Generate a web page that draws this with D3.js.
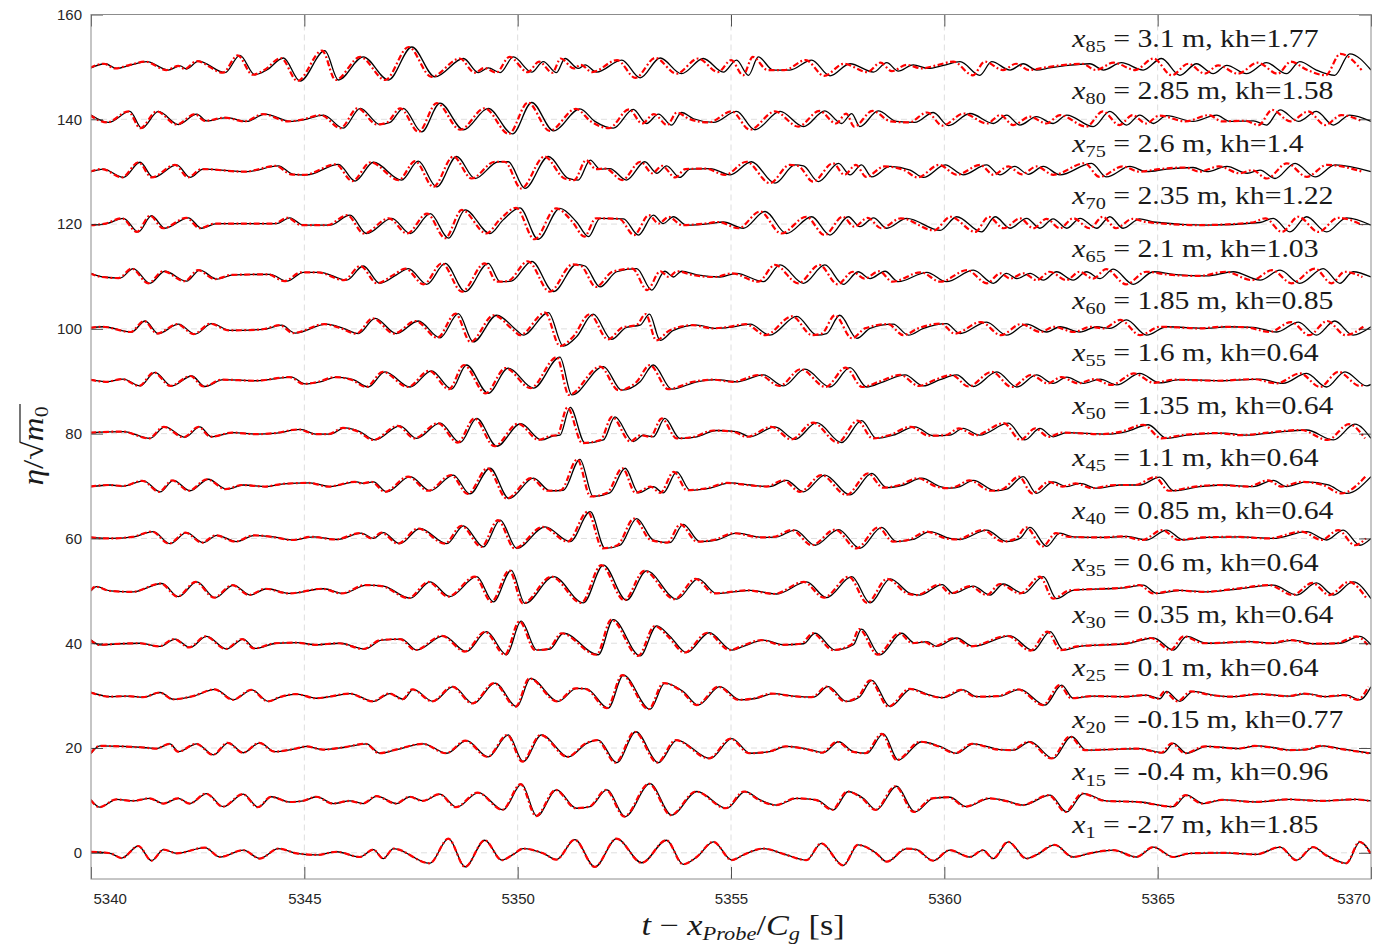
<!DOCTYPE html>
<html>
<head>
<meta charset="utf-8">
<script src="https://cdn.jsdelivr.net/npm/d3@7"></script>
<style>
  body { margin: 0; background: #fff; }
</style>
</head>
<body>
<div id="chart"></div>
<script>
// wave records, [time, eta/sqrt(m0) relative to the probe's offset]
const p85 = [[5340,-0.2],[5340.33,0.6],[5340.6,-0.3],[5340.91,0.3],[5341.31,1.0],[5341.81,-0.6],[5342.09,0.2],[5342.24,-0.4],[5342.52,1.1],[5343.14,-1.1],[5343.49,2.2],[5343.84,-1.5],[5344.12,-0.6],[5344.51,1.7],[5344.9,-2.7],[5345.48,3.1],[5345.8,-2.5],[5346.38,1.9],[5346.97,-2.5],[5347.52,3.8],[5348.06,-1.9],[5348.73,1.6],[5349.08,-1.1],[5349.31,-0.2],[5349.59,-1.1],[5349.9,1.9],[5350.33,-1.0],[5350.6,1.0],[5350.91,-1.1],[5351.11,1.6],[5351.42,-0.3],[5351.58,0.4],[5351.85,-1.0],[5352.44,1.3],[5352.87,-2.1],[5353.34,1.7],[5353.84,-1.3],[5354.35,1.6],[5354.82,-1.0],[5355.13,1.3],[5355.41,-1.6],[5355.64,1.9],[5355.99,-0.6],[5356.38,-0.6],[5356.89,1.3],[5357.32,-1.7],[5357.79,0.6],[5358.34,-1.0],[5358.65,0.8],[5358.92,-0.8],[5359.27,0.4],[5359.62,-0.3],[5359.98,0.3],[5360.37,1.0],[5360.83,-1.6],[5361.11,1.0],[5361.54,-0.6],[5361.85,0.6],[5362.16,-0.6],[5362.47,-0.2],[5362.9,0.3],[5363.41,0.6],[5363.73,-0.6],[5364.15,0.8],[5364.66,-0.6],[5365.09,1.6],[5365.52,-1.6],[5365.91,0.6],[5366.3,-1.3],[5366.62,0.3],[5367.08,-1.3],[5367.55,0.8],[5368.02,-1.3],[5368.33,1.0],[5368.72,-0.6],[5369.15,-1.6],[5369.5,2.5],[5370,-0.6]];
const p80 = [[5340,0.8],[5340.41,-0.6],[5340.91,1.5],[5341.19,-1.7],[5341.58,1.5],[5342.05,-1.0],[5342.48,1.0],[5342.71,-0.3],[5343.18,0.3],[5343.65,-0.4],[5344.08,1.0],[5344.67,-0.4],[5344.98,-0.1],[5345.45,0.8],[5345.91,-1.7],[5346.31,2.1],[5346.77,-1.0],[5347.01,-0.6],[5347.32,2.1],[5347.75,-2.4],[5348.18,3.1],[5348.73,-2.0],[5349.31,2.1],[5349.88,-2.8],[5350.33,3.2],[5350.84,-2.2],[5351.46,2.0],[5351.81,-0.4],[5352.24,-1.7],[5352.71,1.9],[5353.02,-0.8],[5353.3,1.0],[5353.61,-1.1],[5353.84,1.3],[5354.12,0.1],[5354.59,-0.6],[5355.13,1.5],[5355.56,-2.0],[5356.15,1.5],[5356.7,-1.4],[5357.2,1.6],[5357.59,-0.8],[5357.83,1.1],[5358.02,-1.4],[5358.45,1.6],[5358.88,-0.4],[5359.31,-0.6],[5359.74,1.3],[5360.1,-1.2],[5360.6,1.1],[5361.15,-0.8],[5361.46,0.8],[5361.77,-1.1],[5362.16,0.5],[5362.55,-0.8],[5362.87,0.8],[5363.49,-1.4],[5363.88,1.5],[5364.27,-1.1],[5364.58,0.8],[5364.9,-0.8],[5365.21,0.7],[5365.83,-0.4],[5366.38,0.8],[5366.69,-0.4],[5367.24,-0.3],[5367.55,-1.1],[5367.87,1.8],[5368.3,-0.4],[5368.72,1.5],[5369.12,-1.1],[5369.5,0.8],[5370,-0.4]];
const p75 = [[5340,0],[5340.29,0.5],[5340.76,-1.1],[5341.15,1.8],[5341.46,-1.1],[5342.01,1.3],[5342.32,-1.1],[5342.63,0.5],[5343.65,0],[5344.39,1.1],[5344.74,-0.5],[5345.06,-0.6],[5345.8,1.4],[5346.19,-1.8],[5346.62,1.8],[5347.28,-1.6],[5347.67,2.0],[5348.1,-2.9],[5348.57,2.9],[5349.0,-1.3],[5349.55,1.9],[5349.78,1.9],[5350.17,-3.2],[5350.72,2.9],[5351.19,-1.3],[5351.42,-1.6],[5351.7,2.2],[5351.93,0.5],[5352.16,0.6],[5352.55,-1.6],[5352.98,1.9],[5353.26,-0.3],[5353.49,1.1],[5353.8,-1.1],[5354.04,0.5],[5354.51,0.6],[5354.98,-0.6],[5355.48,1.9],[5356.03,-2.2],[5356.5,1.3],[5356.7,1.1],[5357.05,-1.9],[5357.52,1.6],[5357.79,-0.6],[5358.06,1.3],[5358.3,-1.0],[5358.73,1.0],[5359.2,0.3],[5359.51,-1.1],[5360.02,1.3],[5360.44,-0.6],[5360.99,1.3],[5361.3,-0.6],[5361.65,1.0],[5361.97,-0.5],[5362.32,1.0],[5362.71,-0.6],[5363.45,1.6],[5363.8,-1.0],[5364.35,1.0],[5364.74,0],[5365.21,0.5],[5365.83,0.8],[5366.15,0],[5366.62,1.0],[5367.1,-0.3],[5367.4,0.3],[5367.75,-1.3],[5368.22,1.6],[5368.69,-1.0],[5369.16,1.3],[5370,0]];
const p70 = [[5340,-0.2],[5340.37,0.1],[5340.76,1.1],[5341.11,-1.5],[5341.42,1.6],[5341.73,-0.8],[5342.28,1.2],[5342.59,-0.8],[5342.95,0.1],[5344.35,0.1],[5344.66,1.2],[5344.98,-0.2],[5345.6,-0.2],[5346.07,1.7],[5346.46,-1.8],[5347.05,1.1],[5347.48,-1.8],[5347.95,2.0],[5348.38,-2.7],[5348.77,2.7],[5349.35,-1.8],[5349.66,0.8],[5350.05,3.1],[5350.48,-2.9],[5350.99,3.0],[5351.38,0.4],[5351.66,-2.4],[5351.93,1.1],[5352.48,1.0],[5352.83,-2.1],[5353.18,1.7],[5353.41,0.1],[5353.65,1.4],[5353.96,-0.2],[5354.51,0.1],[5354.82,0.4],[5355.29,-0.8],[5355.8,2.4],[5356.3,-1.8],[5356.89,1.4],[5357.32,-2.1],[5357.75,1.4],[5358.02,-0.5],[5358.34,1.2],[5358.65,-0.8],[5359.12,1.1],[5359.9,-1.2],[5360.29,1.4],[5360.87,-1.5],[5361.19,1.4],[5361.54,-0.8],[5361.93,1.1],[5362.24,-0.8],[5362.55,1.0],[5362.87,-0.8],[5363.18,1.1],[5363.57,-0.8],[5363.88,1.4],[5364.19,-0.8],[5364.58,1.0],[5364.9,0.4],[5366.15,-0.2],[5367.4,0.3],[5367.71,1.1],[5368.1,-1.5],[5368.49,1.4],[5368.96,-1.5],[5369.43,1.2],[5370,-0.2]];
const p65 = [[5340,0.6],[5340.29,-0.1],[5340.68,-0.3],[5340.99,1.5],[5341.38,-1.3],[5341.73,1.0],[5342.24,-0.9],[5342.55,1.2],[5342.95,-0.5],[5343.34,0.3],[5344.2,0.4],[5344.59,-0.9],[5344.98,0.8],[5345.37,0.8],[5345.99,-0.7],[5346.38,2.0],[5346.77,-1.3],[5347.16,0.3],[5347.44,1.5],[5347.87,-1.5],[5348.3,2.5],[5348.77,-2.9],[5349.31,2.5],[5349.59,-1.0],[5349.85,-0.9],[5350.33,2.9],[5350.84,-2.9],[5351.38,2.3],[5351.58,2.0],[5351.93,-2.0],[5352.32,0.9],[5352.79,1.5],[5353.14,-2.6],[5353.45,1.0],[5353.65,-0.1],[5353.84,1.0],[5354.2,0.3],[5354.74,-0.1],[5355.13,0.6],[5355.76,-1.0],[5356.15,2.2],[5356.7,-1.3],[5357.2,2.2],[5357.63,-1.5],[5357.98,0.9],[5358.26,-0.4],[5358.61,1.0],[5358.92,-1.0],[5359.59,0.8],[5360.05,-1.0],[5360.68,1.2],[5361.15,-1.3],[5361.46,0.6],[5361.7,-0.4],[5362.01,0.6],[5362.32,-0.7],[5362.63,0.9],[5363.02,-0.7],[5363.33,0.9],[5363.65,-0.4],[5363.96,1.4],[5364.43,-1.5],[5364.9,0.9],[5365.37,0.4],[5366.15,0.1],[5366.77,0.9],[5367.4,-0.7],[5367.87,1.2],[5368.33,-1.3],[5368.88,1.5],[5369.27,-1.3],[5369.58,0.9],[5370,-0.1]];
const p60 = [[5340,0.2],[5340.29,0.4],[5340.95,-0.6],[5341.27,1.5],[5341.58,-0.9],[5342.05,0.9],[5342.44,-1.0],[5342.83,1.0],[5343.26,-0.3],[5344.04,-0.1],[5344.47,0.7],[5344.78,-0.8],[5345.52,0.9],[5345.91,0.1],[5346.27,-0.9],[5346.66,2.0],[5347.16,-0.9],[5347.67,1.5],[5348.18,-1.7],[5348.61,2.9],[5348.96,-2.5],[5349.51,2.6],[5349.98,-0.3],[5350.13,-1.2],[5350.72,3.1],[5351.07,-3.3],[5351.38,-1.5],[5351.77,2.8],[5352.2,-2.0],[5352.55,0.3],[5352.87,0.7],[5353.09,2.8],[5353.34,-2.2],[5353.65,-0.3],[5354.2,0.7],[5354.66,0.1],[5354.98,0.3],[5355.45,0.9],[5355.91,-1.2],[5356.54,2.4],[5357.01,-1.2],[5357.24,-0.9],[5357.55,2.6],[5357.95,-1.8],[5358.26,0.1],[5358.8,0.9],[5359.16,-1.2],[5359.51,0.1],[5360.05,1.0],[5360.37,-0.9],[5360.99,1.3],[5361.46,-1.2],[5361.93,0.9],[5362.4,-0.6],[5362.71,0.4],[5363.18,-0.6],[5363.57,0.4],[5363.88,0.1],[5364.27,1.7],[5364.74,-1.2],[5365.21,0.4],[5366.15,0.1],[5366.62,0.4],[5367.24,0.3],[5367.79,-0.6],[5368.3,1.3],[5368.72,-1.2],[5369.15,1.5],[5369.58,-1.2],[5370,0.4]];
const p55 = [[5340,0.3],[5340.37,-0.1],[5340.76,0.4],[5341.15,-0.9],[5341.5,1.7],[5341.89,-0.9],[5342.36,1.0],[5342.67,-1.0],[5343.1,0.3],[5343.88,0.1],[5344.7,0.8],[5345.02,-0.5],[5345.37,-0.1],[5345.76,0.8],[5346.15,0.3],[5346.5,-1.1],[5346.89,1.8],[5347.48,-1.1],[5347.98,2.0],[5348.45,-1.5],[5348.8,3.1],[5349.31,-2.3],[5349.78,2.5],[5350.37,-1.3],[5350.99,4.6],[5351.27,-2.6],[5352.01,2.8],[5352.44,-1.7],[5352.87,-0.1],[5353.18,3.1],[5353.61,-1.5],[5354.2,-0.1],[5354.66,0.3],[5355.13,-0.1],[5355.76,1.2],[5356.23,-0.9],[5356.73,2.3],[5357.32,-1.1],[5357.79,2.6],[5358.18,-1.1],[5358.57,-0.1],[5359.08,1.2],[5359.51,-0.9],[5359.9,0.3],[5360.29,1.2],[5360.68,-1.0],[5361.23,1.8],[5361.7,-1.1],[5362.16,1.2],[5362.55,-0.4],[5362.87,0.8],[5363.26,-0.4],[5363.65,0.4],[5364.04,-0.7],[5364.58,1.5],[5365.05,-0.3],[5365.52,0.3],[5366.54,0.1],[5367.4,0.4],[5367.94,-0.4],[5368.49,1.5],[5368.96,-1.1],[5369.39,1.8],[5369.9,-0.9],[5370,-0.6]];
const p50 = [[5340,0.2],[5340.76,0.4],[5341.38,-0.9],[5341.73,1.3],[5342.2,-0.7],[5342.55,1.3],[5342.83,-0.6],[5343.34,0.2],[5343.88,-0.1],[5344.35,0.1],[5344.9,0.8],[5345.29,-0.1],[5345.6,-0.1],[5345.95,1.1],[5346.3,0.4],[5346.66,-1.2],[5347.24,1.5],[5347.63,-0.9],[5348.18,2.0],[5348.65,-1.7],[5349.04,2.9],[5349.51,-2.4],[5350.07,1.9],[5350.56,-1.2],[5350.84,-0.4],[5350.99,-0.3],[5351.23,5.0],[5351.58,-1.8],[5352.01,-1.2],[5352.28,3.2],[5352.71,-1.5],[5352.95,-0.3],[5353.18,-0.6],[5353.45,2.9],[5353.8,-0.9],[5354.2,-0.6],[5354.66,0.6],[5355.13,0.4],[5355.45,-0.6],[5356.03,1.3],[5356.5,-1.1],[5357.01,2.1],[5357.59,-1.7],[5358.06,2.5],[5358.41,-0.9],[5358.8,-0.3],[5359.31,1.3],[5359.74,-0.4],[5360.13,-0.3],[5360.44,1.0],[5360.83,-0.3],[5361.5,2.0],[5361.89,-1.2],[5362.24,1.0],[5362.55,-0.6],[5362.87,0.2],[5363.8,-0.1],[5364.27,0.4],[5364.78,1.7],[5365.21,-0.9],[5365.68,-0.3],[5366.54,0.1],[5367.08,-0.3],[5367.71,0.2],[5368.49,0.7],[5369.12,-1.2],[5369.62,1.8],[5370,-0.9]];
const p45 = [[5340,-0.1],[5340.45,0.2],[5340.76,0],[5341.23,1.0],[5341.62,-1.1],[5341.93,1.1],[5342.32,-0.9],[5342.75,1.3],[5343.18,-0.6],[5343.57,0.2],[5344.12,-0.1],[5344.51,0.4],[5345.13,0.6],[5345.6,-0.1],[5346.23,0.8],[5346.38,0.5],[5346.62,0.8],[5346.93,-1.1],[5347.48,1.8],[5347.95,-0.9],[5348.49,2.1],[5348.88,-1.5],[5349.35,3.4],[5349.8,-2.4],[5350.37,1.5],[5350.76,-0.9],[5351.07,-0.8],[5351.46,5.1],[5351.77,-2.0],[5352.16,-1.3],[5352.52,3.4],[5352.83,-1.3],[5353.18,-0.1],[5353.41,-1.3],[5353.73,2.7],[5354.04,-0.8],[5354.51,-0.4],[5354.98,0.6],[5355.45,0.2],[5355.91,-0.1],[5356.3,1.1],[5356.7,-1.1],[5357.2,2.1],[5357.79,-1.7],[5358.3,2.4],[5358.65,-0.3],[5359.04,0.2],[5359.47,1.5],[5359.9,-0.1],[5360.13,-0.4],[5360.37,-0.1],[5360.68,1.1],[5361.19,-0.9],[5361.46,-0.6],[5361.85,1.8],[5362.16,-1.4],[5362.55,0.8],[5362.87,-0.1],[5363.18,0.5],[5363.57,-0.4],[5364.12,0.2],[5364.58,0.2],[5365.05,1.7],[5365.37,-0.9],[5365.99,-0.1],[5366.54,0.2],[5367.24,-0.1],[5367.71,1.1],[5368.02,-0.1],[5368.49,0.8],[5369.0,0.2],[5369.43,-1.4],[5370,1.8]];
const p40 = [[5340,0.2],[5340.45,0],[5340.99,0.3],[5341.46,1.3],[5341.85,-1.0],[5342.24,1.1],[5342.63,-0.8],[5342.95,0.6],[5343.41,-0.6],[5343.84,0.6],[5344.35,0.2],[5344.74,-0.3],[5345.21,0.3],[5345.76,-0.2],[5346.34,1.0],[5346.62,0],[5346.85,1.1],[5347.24,-1.0],[5347.71,1.9],[5348.34,-1.0],[5348.73,2.4],[5349.2,-1.6],[5349.59,3.5],[5349.98,-1.9],[5350.64,2.2],[5351.23,-0.6],[5351.7,5.1],[5352.05,-1.9],[5352.4,-1.3],[5352.79,3.8],[5353.18,-0.3],[5353.57,-0.8],[5353.88,2.7],[5354.27,-0.6],[5354.66,-0.3],[5355.13,1.0],[5355.76,0.2],[5356.07,0.3],[5356.5,1.6],[5356.97,-1.3],[5357.52,1.7],[5358.02,-1.9],[5358.53,2.1],[5358.88,-0.6],[5359.27,-0.2],[5359.66,1.3],[5360.13,0],[5360.37,-0.2],[5360.99,1.6],[5361.46,-0.6],[5361.77,0],[5362.01,2.1],[5362.4,-1.5],[5362.71,1.0],[5363.02,0.3],[5363.8,0.2],[5364.27,0.4],[5364.74,-0.3],[5365.21,1.6],[5365.6,-0.3],[5366.15,0.2],[5366.93,0.3],[5367.71,0],[5368.49,1.3],[5368.96,-0.3],[5369.35,1.6],[5369.74,-1.3],[5370,0]];
const p35 = [[5340,0],[5340.13,0.8],[5340.45,0],[5340.99,-0.2],[5341.66,1.4],[5342.05,-1.1],[5342.48,1.7],[5342.91,-1.3],[5343.34,1.1],[5343.73,-0.8],[5344.12,0.4],[5344.66,-0.5],[5345.45,0.4],[5345.91,-0.5],[5346.46,1.1],[5346.85,0.9],[5347.48,-1.4],[5347.95,1.7],[5348.41,-1.1],[5349.04,2.7],[5349.43,-2.1],[5349.85,3.9],[5350.17,-2.4],[5350.84,2.7],[5351.54,-2.3],[5352.01,4.9],[5352.55,-1.8],[5353.02,3.8],[5353.73,-1.6],[5354.23,2.3],[5354.66,-0.5],[5355.45,0.1],[5356.07,-0.6],[5356.77,1.7],[5357.24,-1.3],[5357.83,2.7],[5358.26,-2.3],[5358.73,2.3],[5359.2,-0.5],[5359.43,-0.8],[5359.95,1.2],[5360.21,-0.5],[5360.68,0.9],[5361.07,-0.8],[5361.38,1.3],[5361.85,-0.5],[5362.32,2.7],[5362.63,-1.5],[5363.02,0.1],[5363.8,0.4],[5364.27,0.6],[5364.66,1.1],[5364.98,-0.5],[5365.52,0.1],[5366.15,-0.2],[5366.93,0.4],[5367.71,1.1],[5368.26,-0.8],[5368.72,1.5],[5369.12,-0.8],[5369.58,1.7],[5370,-1.5]];
const p30 = [[5340,0.6],[5340.21,-0.3],[5340.68,-0.1],[5341.15,0],[5341.62,-0.6],[5341.97,0.8],[5342.32,-0.8],[5342.71,1.3],[5343.18,-1.1],[5343.57,0.8],[5343.84,-1.0],[5344.35,0],[5344.82,0.1],[5345.29,-0.3],[5345.84,0],[5346.42,-1.1],[5346.81,0.6],[5347.28,0.8],[5347.63,-1.3],[5348.26,1.4],[5348.8,-1.6],[5349.27,2.2],[5349.74,-2.2],[5350.08,4.2],[5350.45,-1.3],[5350.76,-1.1],[5351.07,1.9],[5351.89,-2.2],[5352.24,4.5],[5352.87,-2.4],[5353.26,3.3],[5353.57,1.3],[5353.96,-1.8],[5354.49,2.0],[5355.02,-1.3],[5355.29,-0.6],[5355.76,0.6],[5356.23,-0.3],[5356.7,-0.1],[5356.97,1.9],[5357.44,-1.3],[5357.87,-0.3],[5358.06,2.7],[5358.49,-2.2],[5359.0,1.9],[5359.31,0],[5359.59,0.3],[5359.82,-0.6],[5360.29,1.0],[5360.68,-0.6],[5361.54,1.4],[5362.08,-1.4],[5362.48,2.2],[5362.79,-1.3],[5363.18,-0.6],[5363.8,-0.3],[5364.27,-0.1],[5364.9,1.0],[5365.37,-1.3],[5365.68,1.3],[5366.15,0],[5366.62,0.1],[5367.16,0.3],[5367.71,0],[5368.18,0.6],[5368.65,-0.1],[5369.27,0],[5369.74,1.3],[5370,-0.3]];
const p25 = [[5340,0.6],[5340.45,-0.2],[5340.84,-0.1],[5341.23,-0.3],[5341.62,0.6],[5341.93,-0.7],[5342.4,-0.1],[5342.91,1.2],[5343.34,-0.8],[5343.77,1.1],[5344.16,-1.1],[5344.43,-0.3],[5344.82,0.3],[5345.29,-0.5],[5345.6,-0.2],[5346.07,0.4],[5346.62,-1.1],[5347.01,0.4],[5347.32,-0.7],[5347.55,1.2],[5348.02,-1.1],[5348.49,1.7],[5348.96,-1.5],[5349.47,2.4],[5349.98,-2.1],[5350.3,3.3],[5350.95,-1.1],[5351.38,1.4],[5351.62,1.3],[5352.12,-2.4],[5352.48,3.9],[5353.1,-2.6],[5353.45,2.4],[5353.88,0.8],[5354.23,-1.8],[5354.74,1.7],[5355.21,-0.8],[5355.6,-0.5],[5355.99,0.4],[5356.46,-0.1],[5356.93,-0.3],[5357.28,1.7],[5357.71,-1.1],[5358.02,-0.2],[5358.3,2.9],[5358.73,-2.1],[5359.23,1.3],[5359.59,0.3],[5359.98,-0.4],[5360.44,1.1],[5360.76,-0.2],[5361.3,-0.1],[5361.77,1.2],[5362.36,-1.8],[5362.75,2.0],[5363.02,-0.5],[5363.49,-0.1],[5364.27,-0.2],[5364.74,0.1],[5365.05,-0.6],[5365.21,0.8],[5365.52,-1.1],[5365.83,0.8],[5366.3,0.1],[5366.77,-0.2],[5367.4,0.3],[5368.1,-0.1],[5368.49,0.4],[5368.96,-0.2],[5369.43,0.1],[5369.74,-0.8],[5370,1.7]];
const p20 = [[5340,-1.0],[5340.21,0.4],[5340.76,0.3],[5341.23,0.1],[5341.54,-0.1],[5341.85,0.8],[5342.05,-0.7],[5342.48,0.8],[5342.87,-1.3],[5343.22,1.0],[5343.57,-0.9],[5343.96,1.0],[5344.31,-0.7],[5344.82,-0.1],[5345.06,0.3],[5345.45,-0.3],[5345.91,0.1],[5346.46,0.8],[5346.77,-1.0],[5347.16,-0.3],[5347.79,0.8],[5348.34,-1.0],[5348.8,1.4],[5349.31,-1.7],[5349.78,2.5],[5350.13,-2.6],[5350.56,2.5],[5351.19,-1.7],[5351.62,0.9],[5351.89,1.5],[5352.32,-2.8],[5352.77,3.1],[5353.3,-2.8],[5353.73,1.5],[5354.51,-2.0],[5355.02,1.8],[5355.45,-1.0],[5355.91,-0.7],[5356.3,0.3],[5356.85,-0.3],[5357.16,-0.9],[5357.52,1.2],[5357.87,-0.7],[5358.18,-1.0],[5358.57,2.7],[5358.92,-2.3],[5359.47,1.2],[5359.9,0.3],[5360.29,-1.0],[5360.68,0.8],[5361.3,-0.3],[5361.62,-0.4],[5362.01,1.2],[5362.55,-2.0],[5362.98,2.2],[5363.33,-0.4],[5363.8,-0.3],[5364.58,-0.1],[5365.13,-0.9],[5365.37,0.9],[5365.68,-1.0],[5366.15,0.3],[5366.93,-0.1],[5367.32,0.4],[5367.71,0.1],[5368.1,-0.4],[5368.49,-0.3],[5368.88,0.4],[5369.27,-0.1],[5370,-1.0]];
const p15 = [[5340,0.1],[5340.21,-1.3],[5340.6,0.2],[5340.99,-0.1],[5341.38,0.4],[5341.7,-0.6],[5342.05,0.4],[5342.32,-0.6],[5342.71,1.3],[5343.1,-1.2],[5343.57,1.2],[5343.92,-1.3],[5344.23,0.7],[5344.66,-0.3],[5344.98,-0.1],[5345.29,0.7],[5345.68,-0.6],[5346.07,-0.1],[5346.38,-0.6],[5346.7,0.8],[5347.16,-0.6],[5347.48,0.7],[5347.79,-0.1],[5348.18,1.2],[5348.57,-1.3],[5349.08,1.5],[5349.66,-1.8],[5350.09,3.1],[5350.45,-3.0],[5350.91,2.0],[5351.38,-1.5],[5351.7,-1.2],[5352.09,2.0],[5352.52,-3.1],[5353.1,3.2],[5353.61,-2.8],[5354.2,1.7],[5354.9,-1.5],[5355.33,1.7],[5355.68,0.1],[5356.07,-0.9],[5356.54,0.4],[5357.01,0.1],[5357.4,-1.8],[5357.75,1.7],[5358.1,0.4],[5358.41,-1.8],[5358.88,2.7],[5359.31,-2.2],[5359.74,0.4],[5360.13,0.6],[5360.52,-1.2],[5361.07,0.4],[5361.46,-0.1],[5361.85,-0.9],[5362.48,1.0],[5362.87,-2.2],[5363.26,1.3],[5363.8,-0.1],[5364.58,-0.3],[5365.37,-1.2],[5365.68,1.0],[5366.07,-0.6],[5366.54,0.1],[5367.32,-0.3],[5368.1,0.2],[5368.88,-0.1],[5369.66,0.2],[5370,-0.1]];
const p1 = [[5340,0.2],[5340.45,-0.1],[5340.72,-1.0],[5341.11,1.3],[5341.42,-1.5],[5341.7,0.6],[5342.01,-0.1],[5342.67,1.0],[5343.02,-0.8],[5343.57,0.5],[5343.96,-1.1],[5344.39,0.8],[5344.82,-0.1],[5345.29,-0.4],[5345.76,0.2],[5346.3,-0.8],[5346.62,0.6],[5346.85,-1.1],[5347.09,0.8],[5347.94,-2.0],[5348.38,2.7],[5348.77,-2.7],[5349.23,2.4],[5349.63,-1.4],[5349.9,-0.3],[5350.13,0.8],[5350.6,-0.1],[5350.91,-1.3],[5351.34,2.5],[5351.81,-2.7],[5352.32,2.7],[5352.91,-1.9],[5353.49,2.4],[5353.88,-2.2],[5354.2,-0.8],[5354.59,2.1],[5355.02,-1.4],[5355.29,-0.4],[5355.76,0.8],[5356.3,-0.4],[5356.77,-1.4],[5357.12,1.8],[5357.63,-2.4],[5357.98,1.5],[5358.41,-0.1],[5358.65,-1.7],[5359.12,0.8],[5359.35,0.6],[5359.74,-1.5],[5360.13,0.5],[5360.6,-0.8],[5360.91,0.5],[5361.15,-1.1],[5361.5,2.1],[5361.93,-1.1],[5362.16,-0.4],[5362.59,1.5],[5363.02,-0.8],[5363.41,-0.1],[5363.96,0.5],[5364.51,-0.8],[5364.9,1.1],[5365.37,-0.8],[5365.76,-0.1],[5366.54,0],[5367.32,-0.3],[5367.87,1.1],[5368.26,-1.4],[5368.65,1.1],[5368.96,-0.5],[5369.43,-2.0],[5369.74,2.1],[5370,-0.1]];

const series   = [p85, p80, p75, p70, p65, p60, p55, p50, p45, p40, p35, p30, p25, p20, p15, p1];
const offsets  = [150, 140, 130, 120, 110, 100, 90, 80, 70, 60, 50, 40, 30, 20, 10, 0];
const probeIdx = ["85","80","75","70","65","60","55","50","45","40","35","30","25","20","15","1"];
const probePos = ["3.1","2.85","2.6","2.35","2.1","1.85","1.6","1.35","1.1","0.85","0.6","0.35","0.1","-0.15","-0.4","-2.7"];
const khVals   = ["1.77","1.58","1.4","1.22","1.03","0.85","0.64","0.64","0.64","0.64","0.64","0.64","0.64","0.77","0.96","1.85"];
// how far the red (model) trace runs ahead of the black one, seconds, at 5340 and at 5370
const redLead  = [[0.03,0.22],[0.03,0.2],[0.03,0.2],[0.03,0.2],[0.03,0.2],[0.02,0.18],[0.02,0.16],[0.02,0.14],
                  [0.02,0.13],[0.02,0.12],[0.02,0.1],[0.02,0.08],[0.01,0.06],[0.01,0.05],[0.01,0.04],[0,0.01]];
const xTicks = [5340, 5345, 5350, 5355, 5360, 5365, 5370];
const yTicks = [0, 20, 40, 60, 80, 100, 120, 140, 160];

const W = 1392, H = 944;
const svg = d3.select("#chart").append("svg")
    .attr("width", W)
    .attr("height", H);

const x = d3.scaleLinear().domain([5340, 5370]).range([91, 1371]);
const y = d3.scaleLinear().domain([-5, 160]).range([879, 14.5]);

svg.append("rect")
    .attr("width", W).attr("height", H)
    .attr("fill", "#fff");

// grid
svg.append("g").selectAll("line")
    .data(xTicks.slice(1, -1))
    .enter().append("line")
    .attr("x1", d => x(d)).attr("x2", d => x(d))
    .attr("y1", y(160)).attr("y2", y(-5))
    .attr("stroke", "#dedede").attr("stroke-width", 1)
    .attr("stroke-dasharray", "6,4");

svg.append("g").selectAll("line")
    .data(yTicks.slice(0, -1))
    .enter().append("line")
    .attr("x1", x(5340)).attr("x2", x(5370))
    .attr("y1", d => y(d)).attr("y2", d => y(d))
    .attr("stroke", "#dedede").attr("stroke-width", 1)
    .attr("stroke-dasharray", "6,4");

svg.append("clipPath").attr("id", "plotclip")
  .append("rect")
    .attr("x", x(5340)).attr("y", y(160))
    .attr("width", x(5370) - x(5340)).attr("height", y(-5) - y(160));

const line = d3.line()
    .x(d => x(d[0]))
    .y(d => y(d[1]))
    .curve(d3.curveMonotoneX);

const plot = svg.append("g").attr("clip-path", "url(#plotclip)");

// measured (black)
plot.selectAll(".meas")
    .data(series)
    .enter().append("path")
    .attr("class", "meas")
    .attr("fill", "none")
    .attr("stroke", "#000")
    .attr("stroke-width", 1.3)
    .attr("d", (s, i) => line(s.map(p => [p[0], p[1] + offsets[i]])));

// model (red dash-dot)
plot.selectAll(".model")
    .data(series)
    .enter().append("path")
    .attr("class", "model")
    .attr("fill", "none")
    .attr("stroke", "#ff0000")
    .attr("stroke-width", 2.2)
    .attr("stroke-dasharray", "6,2.5,1.8,2.5")
    .attr("d", (s, i) => {
        const l0 = redLead[i][0], l1 = redLead[i][1];
        return line(s.map(p => [p[0] - (l0 + (l1 - l0) * (p[0] - 5340) / 30), p[1] + offsets[i]]));
    });

// axes: ticks inside, on all four sides
const tickFont = "'Liberation Sans', Arial, Helvetica, sans-serif";
const gx = svg.append("g")
    .attr("transform", "translate(0," + y(-5) + ")")
    .call(d3.axisBottom(x).tickValues(xTicks).tickSize(-12).tickPadding(14).tickFormat(d3.format("d")));
const gy = svg.append("g")
    .attr("transform", "translate(" + x(5340) + ",0)")
    .call(d3.axisLeft(y).tickValues(yTicks).tickSize(-12).tickPadding(9));
const gt = svg.append("g")
    .attr("transform", "translate(0," + y(160) + ")")
    .call(d3.axisTop(x).tickValues(xTicks).tickSize(-12).tickFormat(""));
const gr = svg.append("g")
    .attr("transform", "translate(" + x(5370) + ",0)")
    .call(d3.axisRight(y).tickValues(yTicks).tickSize(-12).tickFormat(""));

[gx, gy, gt, gr].forEach(g => {
    g.select(".domain").remove();
    g.selectAll(".tick line").attr("stroke", "#262626").attr("stroke-width", 0.8);
    g.selectAll(".tick text")
        .attr("fill", "#262626")
        .style("font-family", tickFont)
        .style("font-size", "15px");
});
// end labels of the time axis sit inside the box, as in the figure
gx.selectAll(".tick text")
    .attr("text-anchor", d => d === 5340 ? "start" : (d === 5370 ? "end" : "middle"))
    .attr("dx", d => d === 5340 ? 2 : (d === 5370 ? -1 : 0));

svg.append("rect")
    .attr("x", x(5340)).attr("y", y(160))
    .attr("width", x(5370) - x(5340)).attr("height", y(-5) - y(160))
    .attr("fill", "none")
    .attr("stroke", "#8c8c8c")
    .attr("stroke-width", 1);

// probe labels (LaTeX-like serif, stretched a little to the width of the original)
const serif = "'Liberation Serif', 'Times New Roman', serif";
const labels = svg.append("g")
    .style("font-family", serif)
    .attr("fill", "#1a1a1a");

offsets.forEach((o, i) => {
    const g = labels.append("g")
        .attr("transform", "translate(" + x(5363.0) + "," + y(o + 3.8) + ") scale(1.19,1)");
    const t = g.append("text")
        .style("font-size", "25px");
    t.append("tspan").style("font-style", "italic").text("x");
    t.append("tspan").attr("dy", 5).style("font-size", "17px").text(probeIdx[i]);
    t.append("tspan").attr("dy", -5).text(" = " + probePos[i] + " m, kh=" + khVals[i]);
});

// x label: t - x_Probe / C_g [s]
const xlg = svg.append("g")
    .attr("transform", "translate(743,935) scale(1.18,1)");
const xl = xlg.append("text")
    .attr("text-anchor", "middle")
    .style("font-family", serif)
    .style("font-size", "29px")
    .attr("fill", "#1a1a1a");
xl.append("tspan").style("font-style", "italic").text("t");
xl.append("tspan").text(" \u2212 ");
xl.append("tspan").style("font-style", "italic").text("x");
xl.append("tspan").attr("dy", 5).style("font-style", "italic").style("font-size", "19px").text("Probe");
xl.append("tspan").attr("dy", -5).text("/");
xl.append("tspan").style("font-style", "italic").text("C");
xl.append("tspan").attr("dy", 5).style("font-style", "italic").style("font-size", "19px").text("g");
xl.append("tspan").attr("dy", -5).text("  [s]");

// y label: eta / sqrt(m0)
const yl = svg.append("g")
    .attr("transform", "translate(43,446) rotate(-90) scale(1.15,1)")
    .style("font-family", serif)
    .style("font-size", "29px")
    .attr("fill", "#1a1a1a");
const yl1 = yl.append("text").attr("x", 0).attr("y", 0).attr("text-anchor", "end");
yl1.append("tspan").style("font-style", "italic").text("\u03b7");
yl1.append("tspan").text("/\u221a");
const yl2 = yl.append("text").attr("x", 0).attr("y", 0);
yl2.append("tspan").style("font-style", "italic").text("m");
yl2.append("tspan").attr("dy", 5).style("font-size", "19px").text("0");
const w1 = yl1.node().getComputedTextLength();
const w2 = yl2.node().getComputedTextLength();
const shift = (w1 - w2) / 2;
yl1.attr("x", shift);
yl2.attr("x", shift);
yl.append("line")
    .attr("x1", shift - 1).attr("x2", shift + w2 + 2)
    .attr("y1", -23).attr("y2", -23)
    .attr("stroke", "#1a1a1a").attr("stroke-width", 1.2);
</script>
</body>
</html>
